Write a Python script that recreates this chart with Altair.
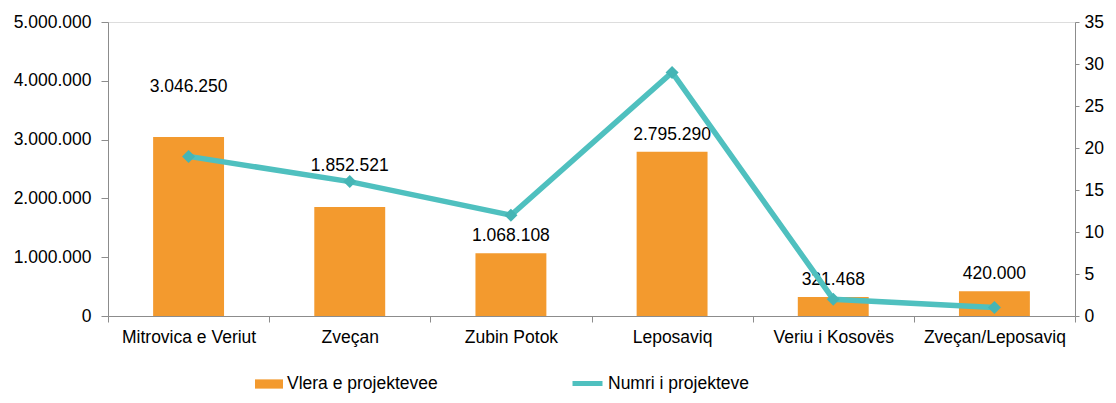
import altair as alt
import pandas as pd

categories = ["Mitrovica e Veriut", "Zveçan", "Zubin Potok", "Leposaviq",
              "Veriu i Kosovës", "Zveçan/Leposaviq"]
values = [3046250, 1852521, 1068108, 2795290, 321468, 420000]
counts = [19, 16, 12, 29, 2, 1]

bar_name = "Vlera e projektevee"
line_name = "Numri i projekteve"

df = pd.DataFrame({"cat": categories, "value": values, "count": counts,
                   "s_bar": bar_name, "s_line": line_name})

FONT = "Liberation Sans"
FS = 17.5
ORANGE = "#F39A2E"
TEAL = "#4FC0BF"
GRAY = "#8C8C8C"

x_axis = alt.X("cat:N", sort=categories, title=None,
               scale=alt.Scale(paddingInner=0, paddingOuter=0),
               axis=alt.Axis(labelAngle=0, tickBand="extent", domainColor=GRAY,
                             tickColor=GRAY, tickSize=6, labelPadding=6,
                             labelFont=FONT, labelFontSize=FS, labelColor="#000"))
x_plain = alt.X("cat:N", sort=categories)

fmt_expr = "replace(format(datum.value, ','), /,/g, '.')"

left_scale = alt.Scale(domain=[0, 5000000])
right_scale = alt.Scale(domain=[0, 35])

bars = alt.Chart(df).mark_bar(color=ORANGE, width={"band": 0.44}).encode(
    x=x_axis,
    y=alt.Y("value:Q", scale=left_scale, title=None,
            axis=alt.Axis(values=[0, 1000000, 2000000, 3000000, 4000000, 5000000],
                          labelExpr=fmt_expr, grid=False, domainColor=GRAY,
                          tickColor=GRAY, tickSize=7, labelPadding=10,
                          labelFont=FONT, labelFontSize=FS, labelColor="#000")),
    color=alt.Color("s_bar:N", title=None,
                    scale=alt.Scale(domain=[bar_name], range=[ORANGE]),
                    legend=alt.Legend(orient="none", legendX=147, legendY=348,
                                      symbolType="M-1,-0.33H1V0.33H-1Z",
                                      symbolSize=784, symbolStrokeWidth=0,
                                      labelFont=FONT, labelFontSize=FS,
                                      labelColor="#000", labelOffset=4,
                                      padding=0)),
)

labels = alt.Chart(df).transform_calculate(
    label="replace(format(datum.value, ','), /,/g, '.')",
    ly="datum.value + (datum.cat == 'Mitrovica e Veriut' ? 850000 : (datum.cat == 'Zveçan' ? 697000 : 289000))",
).mark_text(font=FONT, fontSize=FS, color="#000", baseline="middle").encode(
    x=x_plain,
    y=alt.Y("ly:Q", scale=left_scale, axis=None),
    text="label:N",
)

line = alt.Chart(df).mark_line(strokeWidth=5.5).encode(
    x=x_plain,
    y=alt.Y("count:Q", scale=right_scale, title=None,
            axis=alt.Axis(orient="right", values=[0, 5, 10, 15, 20, 25, 30, 35],
                          grid=False, domainColor=GRAY, tickColor=GRAY,
                          tickSize=4, labelPadding=5, labelFont=FONT,
                          labelFontSize=FS, labelColor="#000")),
    color=alt.Color("s_line:N", title=None,
                    scale=alt.Scale(domain=[line_name], range=[TEAL]),
                    legend=alt.Legend(orient="none", legendX=462, legendY=344,
                                      symbolType="stroke", symbolSize=900,
                                      symbolStrokeWidth=5,
                                      labelFont=FONT, labelFontSize=FS,
                                      labelColor="#000", labelOffset=3,
                                      padding=0)),
)

points = alt.Chart(df).mark_point(shape="diamond", filled=True, size=170,
                                  color="#45B5B5", opacity=1).encode(
    x=x_plain,
    y=alt.Y("count:Q", scale=right_scale, axis=None),
)

chart = alt.layer(bars, labels, line, points).resolve_scale(
    y="independent", color="independent"
).properties(
    width=967, height=294,
    padding={"left": 100, "top": 14, "right": 33, "bottom": 79},
    autosize=alt.AutoSizeParams(type="none"),
).configure_view(stroke=None).configure(background="white")

chart.save("out.html", embed_options={"renderer": "svg", "actions": False})
